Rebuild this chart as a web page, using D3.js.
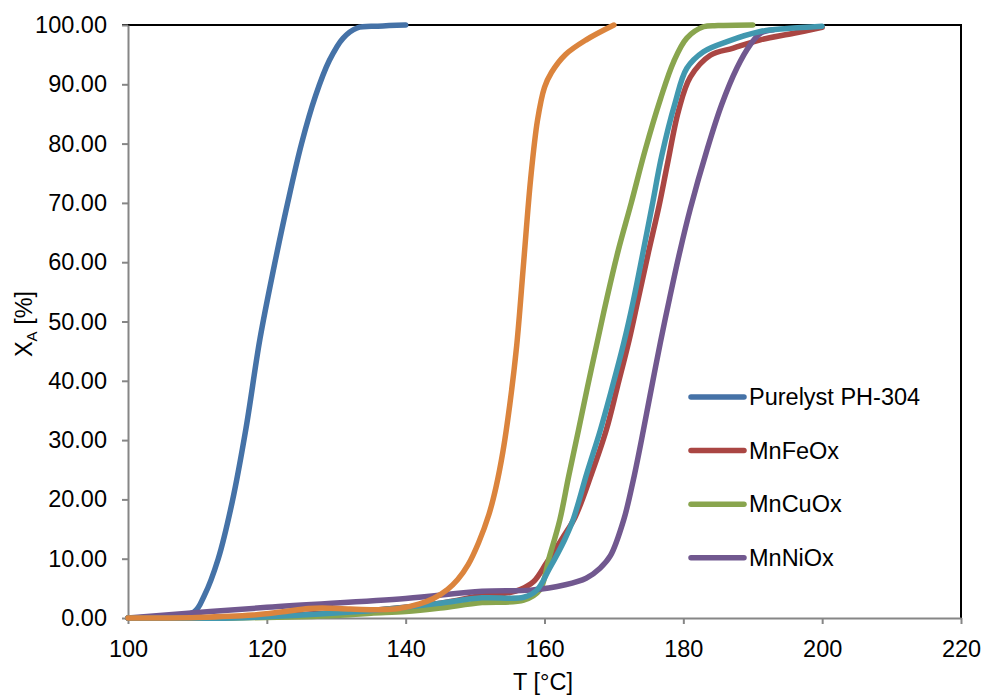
<!DOCTYPE html>
<meta charset="utf-8">
<style>
body { margin: 0; background: #fff; }
svg text { font-family: "Liberation Sans", Arial, sans-serif; font-size: 23.5px; fill: #000; }
.axis path, .axis line { stroke: #868686; stroke-width: 2px; }
.series { fill: none; stroke-width: 5.5px; stroke-linejoin: round; stroke-linecap: round; }
</style>
<body>
<svg width="982" height="695"></svg>
</body>
<script src="https://d3js.org/d3.v7.min.js"></script>
<script>
// T [°C] and X_A [%] for each series
var purelystT = [100, 105, 109.5, 111, 113, 115, 117, 119, 121, 123, 125, 127, 129, 131, 133, 136, 140];
var purelystX = [0, 0.3, 1, 3.8, 10, 19.5, 32, 47, 59, 70, 80, 88, 94, 97.8, 99.5, 99.8, 100];

var mnfeT = [100, 115, 125, 135, 145, 151, 155, 156.5, 158.4, 160.3, 162.6, 164.4, 166.8, 168.9, 170.5, 172.2, 173.5, 175, 176.5, 177.7, 179.3, 181, 183.9, 187.2, 191.1, 195.9, 200];
var mnfeX = [0, 0.1, 0.6, 1.3, 2.5, 3.8, 4.3, 4.8, 6.1, 9.3, 13.5, 17, 24.4, 31.7, 39, 46.9, 53.8, 61.8, 69.5, 76.5, 85.5, 91.2, 94.9, 96.1, 97.5, 98.6, 99.6];

var mncuT = [100, 115, 125, 130, 135, 140, 145, 151, 157, 159.3, 160.7, 162.2, 163.5, 164.9, 166.2, 167.5, 169, 170.65, 172.5, 174.5, 176.7, 178.6, 180.5, 182.9, 185, 190];
var mncuX = [0, 0, 0.2, 0.4, 0.8, 1.1, 1.7, 2.6, 3, 4.7, 10.3, 16.5, 24, 31.7, 39, 46, 54, 62.1, 70, 78.9, 87.5, 93.8, 97.8, 99.7, 99.9, 100];

var mnniT = [100, 120, 140, 151, 158, 163, 166, 168, 169.5, 171.4, 172.8, 174.25, 175.2, 176.7, 178, 179.5, 181, 183.4, 185.5, 187.7, 189.6, 191.1, 193];
var mnniX = [0, 1.8, 3.3, 4.5, 4.7, 5.6, 6.7, 8.4, 10.5, 16.5, 23.3, 31.7, 37.5, 46.5, 53.8, 61.8, 69, 78.9, 86.5, 92.7, 96.6, 98.6, 99.2];

// two unlabelled series (no legend entry in the original)
var tealT = [100, 115, 125, 132, 139, 145, 151, 157, 158.9, 160.7, 162.9, 164.1, 166.1, 168, 169.5, 171.4, 172.8, 174.25, 175.5, 176.9, 178.8, 180.5, 182.9, 186.3, 191.1, 195, 200];
var tealX = [0, 0, 0.5, 1, 1.7, 2.5, 3.4, 3.5, 4.7, 8.3, 13.2, 16.5, 24.4, 31.5, 37.8, 46.3, 53.5, 62, 69.5, 78, 86.8, 92.7, 95.5, 97.2, 98.9, 99.4, 99.8];

var orangeT = [100, 110, 118, 122, 126, 128, 132, 136, 139, 142, 144, 146, 147.5, 149, 150.5, 152, 153, 154, 155, 156, 157, 158, 159, 160, 161, 163, 166, 170];
var orangeX = [0, 0.1, 0.5, 1, 1.6, 1.7, 1.5, 1.4, 1.6, 2.4, 3.3, 4.8, 6.5, 9, 12.7, 17.5, 22, 28, 36, 46, 60, 74, 84, 89.5, 92, 95, 97.5, 100];

var seriesNames = ["Purelyst PH-304", "MnFeOx", "MnCuOx", "MnNiOx", "", ""];
var seriesColors = ["#4572A7", "#AA4643", "#89A54E", "#71588F", "#4198AF", "#DB843D"];
var xTicks = [100, 120, 140, 160, 180, 200, 220];
var yTicks = [0, 10, 20, 30, 40, 50, 60, 70, 80, 90, 100];

var pairs = [[purelystT, purelystX], [mnfeT, mnfeX], [mncuT, mncuX], [mnniT, mnniX], [tealT, tealX], [orangeT, orangeX]];
var data = pairs.map(function(p, i) {
    return { name: seriesNames[i], color: seriesColors[i],
             values: p[0].map(function(t, j) { return {x: t, y: p[1][j]}; }) };
});

var svg = d3.select("svg");
var plot = {left: 128, right: 961, top: 25, bottom: 618};

var xScale = d3.scaleLinear().domain([100, 220]).range([plot.left, plot.right]);
var yScale = d3.scaleLinear().domain([0, 100]).range([plot.bottom, plot.top]);

// plot border (top + right are black)
svg.append("path")
    .attr("d", "M" + (plot.left - 6) + "," + plot.top + "H" + plot.right + "V" + plot.bottom)
    .attr("fill", "none")
    .attr("stroke", "#000")
    .attr("stroke-width", 2);

var yAxisG = svg.append("g")
    .attr("class", "axis")
    .attr("transform", "translate(" + plot.left + ",0)")
    .call(d3.axisLeft(yScale).tickValues(yTicks).tickFormat(d3.format(".2f"))
        .tickSize(6).tickSizeOuter(0).tickPadding(15));

svg.append("g")
    .attr("class", "axis")
    .attr("transform", "translate(0," + plot.bottom + ")")
    .call(d3.axisBottom(xScale).tickValues(xTicks).tickFormat(d3.format("d"))
        .tickSize(6).tickSizeOuter(0).tickPadding(16));

svg.selectAll(".axis").attr("font-size", null).attr("font-family", null);
// the black top border covers the 100.00 tick
yAxisG.selectAll(".tick line").filter(function(d) { return d === 100; }).attr("stroke", "#000");

var line = d3.line()
    .curve(d3.curveCatmullRom.alpha(0.5))
    .x(function(d) { return xScale(d.x); })
    .y(function(d) { return yScale(d.y); });

svg.append("g")
    .selectAll("path")
    .data(data)
    .enter().append("path")
    .attr("class", "series")
    .style("stroke", function(d) { return d.color; })
    .attr("d", function(d) { return line(d.values); });

// axis titles
var yTitle = svg.append("text")
    .attr("transform", "translate(32,324) rotate(-90)")
    .attr("text-anchor", "middle");
yTitle.append("tspan").text("X");
yTitle.append("tspan").attr("font-size", "15px").attr("dy", "5").text("A");
yTitle.append("tspan").attr("dy", "-5").text(" [%]");

svg.append("text")
    .attr("x", 543)
    .attr("y", 690)
    .attr("text-anchor", "middle")
    .text("T [°C]");

// legend (only the four named series)
var legend = svg.append("g")
    .selectAll("g")
    .data(data.filter(function(d) { return d.name; }))
    .enter().append("g")
    .attr("transform", function(d, i) { return "translate(691," + (397 + i * 53.6) + ")"; });

legend.append("line")
    .attr("x1", 0).attr("x2", 53)
    .attr("stroke", function(d) { return d.color; })
    .attr("stroke-width", 5.5)
    .attr("stroke-linecap", "round");

legend.append("text")
    .attr("x", 58)
    .attr("dy", "0.35em")
    .text(function(d) { return d.name; });
</script>
